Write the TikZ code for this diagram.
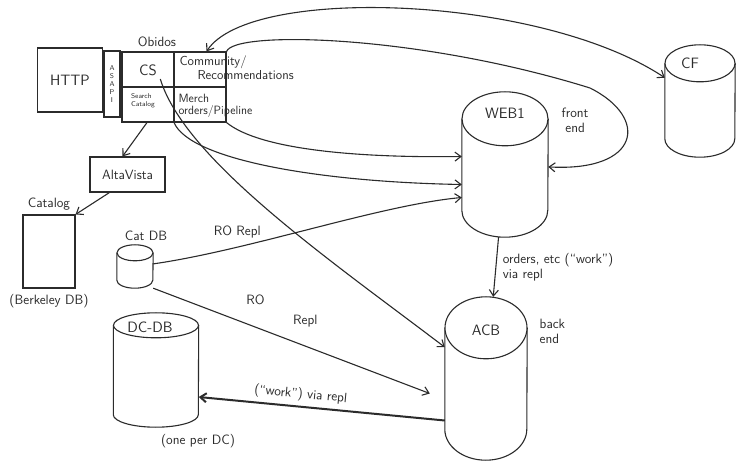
\documentclass[tikz,border=0pt]{standalone}
\usepackage{tikz}
\usetikzlibrary{arrows.meta,positioning}

\definecolor{ink}{HTML}{2B2B2B}

% cylinder outline round a named node: node, x radius, y radius of the ends
\newcommand{\dbdraw}[3]{%
  \draw[pen, fill=white] ([yshift=-#3]#1.north west) -- ([yshift=#3]#1.south west)
    arc[start angle=180, end angle=360, x radius=#2, y radius=#3]
    -- ([yshift=-#3]#1.north east);
  \draw[pen, fill=white] ([yshift=-#3]#1.north) ellipse[x radius=#2, y radius=#3];
}

\begin{document}
\begin{tikzpicture}[
    x=1pt, y=-1pt,
    font=\sffamily, text=ink,
    pen/.style={draw=ink, line width=1.1pt},
    box/.style={rectangle, pen, inner sep=0pt},
    db/.style={rectangle, inner sep=0pt},
    arrow/.style={->, >={Straight Barb[length=6pt, width=9pt]}, pen},
    big/.style={font=\sffamily\fontsize{15}{17}\selectfont},
    note/.style={font=\sffamily\fontsize{13.5}{15}\selectfont, align=left},
    tiny/.style={font=\sffamily\fontsize{7}{8}\selectfont, align=left}
]
\useasboundingbox (0,0) rectangle (742,462);
\fill[white] (0,0) rectangle (742,462);

% Front door
\node[box, big, minimum width=65pt, minimum height=64pt] (http) at (70,80) {HTTP};
\node[box, tiny, align=center, minimum width=16pt, minimum height=66pt] (asapi) at (112,84) {A\\S\\A\\P\\I};

% Obidos block
\node[box, minimum width=104pt, minimum height=70pt] (obidos) at (174,87) {};
\draw[pen] (obidos.north) -- (obidos.south);
\draw[pen] (obidos.west) -- (obidos.east);
\node[note] (obidos-t) at (157,42) {Obidos};
\node[big] (cs) at (148,70) {CS};
\node[note, anchor=west, font=\sffamily\fontsize{13}{14}\selectfont] (commrec) at (176,68) {Community/\\\hspace{18pt}Recommendations};
\node[tiny] (search) at (143,101) {Search\\Catalog};
\node[note, anchor=west, font=\sffamily\fontsize{12}{12.5}\selectfont] (merch) at (175,106) {Merch\\orders/Pipeline};

% Search side
\node[box, note, minimum width=75pt, minimum height=35pt] (altavista) at (127.5,174.5) {AltaVista};
\node[box, minimum width=52pt, minimum height=73pt] (catalog) at (49,251.5) {};
\node[note, above=1pt of catalog] (catalog-t) {Catalog};
\node[note, below=2pt of catalog] (catalog-b) {(Berkeley DB)};

% Databases
\node[db, minimum width=36pt, minimum height=43pt] (catdb) at (135,266.5) {};
\dbdraw{catdb}{18pt}{8pt}
\node[note, above=1pt of catdb, xshift=11pt] (catdb-t) {Cat DB};

\node[db, minimum width=85pt, minimum height=114pt] (dcdb) at (156,370) {};
\dbdraw{dcdb}{42.5pt}{12.5pt}
\node[big] (dcdb-t) at ([xshift=-6pt,yshift=-14pt]dcdb.north) {DC-DB};
\node[note, below=4pt of dcdb, xshift=42pt] (dcdb-b) {(one per DC)};

\node[db, minimum width=86pt, minimum height=145pt] (web1) at (505,164.5) {};
\dbdraw{web1}{43pt}{27pt}
\node[big] (web1-t) at ([yshift=-21pt]web1.north) {WEB1};
\node[note, align=center, below right=13pt and 10pt of web1.north east] (frontend) {front\\end};

\node[db, minimum width=82pt, minimum height=163pt] (acb) at (486,378.5) {};
\dbdraw{acb}{41pt}{31pt}
\node[big] (acb-t) at ([yshift=-33pt]acb.north) {ACB};
\node[note, below right=19pt and 9pt of acb.north east] (backend) {back\\end};

\node[db, minimum width=70pt, minimum height=112pt] (cf) at (700,101) {};
\dbdraw{cf}{35pt}{18.5pt}
\node[big] (cf-t) at ([xshift=-10pt,yshift=-18pt]cf.north) {CF};

% Arrows
\draw[arrow] ([xshift=-27pt]obidos.south) -- ([xshift=-5pt]altavista.north);
\draw[arrow] ([xshift=20pt]altavista.south west) -- (catalog.north east);

\draw[arrow, <->] ([xshift=-20pt]obidos.north east) .. controls (250,-15) and (540,-5) .. (cf);
\draw[arrow] (obidos.north east) .. controls (235,30) and (420,35) .. (590,88)
    .. controls (650,118) and (640,172) .. (web1);
\draw[arrow] (obidos.south east) .. controls (260,150) and (360,158) .. ([yshift=8pt]web1.west);
\draw[arrow] (obidos.south) .. controls (190,160) and (320,182) .. ([yshift=-20pt]web1.west);
\draw[arrow] (cs.south east) .. controls (185,160) and (330,260) .. (acb);

\draw[arrow] (catdb) .. controls (250,250) and (380,205) .. ([yshift=-33pt]web1.west)
    node[note, pos=0.27, above=5pt] (ro1-l) {RO Repl};
\draw[arrow] (catdb.south east) -- ([xshift=-15pt,yshift=-15pt]acb.west)
    node[note, pos=0.37, above=18pt] (ro2-l) {RO}
    node[note, pos=0.55, above=15pt] (repl2-l) {Repl};

\draw[arrow] (web1) -- (acb)
    node[note, midway, right=3pt] (orders-l) {orders, etc (``work'')\\via repl};
\draw[arrow, line width=2pt] ([yshift=-42pt]acb.west) -- ([yshift=-27pt]dcdb.east)
    node[note, pos=0.59, above=1pt, sloped] (work-l) {(``work'') via repl};

\end{tikzpicture}
\end{document}
